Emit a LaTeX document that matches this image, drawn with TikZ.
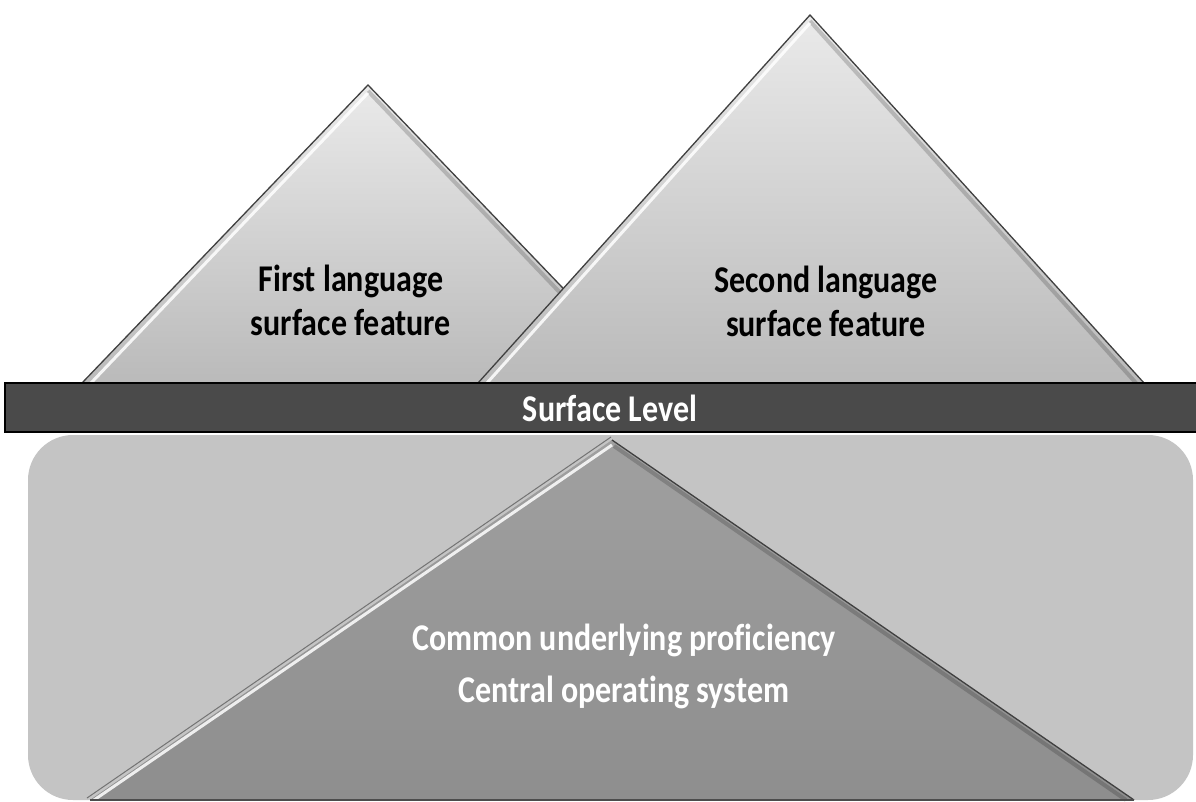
\documentclass[tikz,border=0pt]{standalone}
\usepackage{fontspec}
\setmainfont[Ligatures=NoCommon]{Carlito}
\usetikzlibrary{calc}
\definecolor{barcol}{HTML}{4A4A4A}
\definecolor{basecol}{HTML}{C4C4C4}
\definecolor{coretop}{HTML}{A0A0A0}
\definecolor{corebot}{HTML}{8E8E8E}
\definecolor{pktop}{HTML}{EAEAEA}
\definecolor{pkbot}{HTML}{BABABA}
\newcommand\tallline[1]{\scalebox{1}[1.18]{#1}}
\begin{document}
\begin{tikzpicture}[x=1pt,y=-1pt,
  lbl/.style={font=\bfseries\fontsize{32}{44}\selectfont, align=center, inner sep=0pt},
  edgedark/.style={draw=black!75, line width=1.3pt},
  edgelight/.style={draw=white, line width=3pt, opacity=0.85},
  edgeshadow/.style={draw=black, line width=4pt, opacity=0.18},
]
\useasboundingbox (0,0) rectangle (1196,802);
\fill[white] (0,0) rectangle (1196,802);

% vertices
\coordinate (A1) at (368,85);  \coordinate (L1) at (82,383);  \coordinate (R1) at (654,383);
\coordinate (A2) at (810,15);  \coordinate (L2) at (478,383); \coordinate (R2) at (1144,383);
\coordinate (A3) at (612,440); \coordinate (L3) at (90,800);  \coordinate (R3) at (1134,800);

% base rounded panel
\fill[basecol, rounded corners=45pt] (28,435) rectangle (1193,800);

% central triangle
\shade[top color=coretop, bottom color=corebot] (A3) -- (L3) -- (R3) -- cycle;
\draw[edgeshadow] ($(A3)+(2,6)$) -- ($(R3)+(-8,0)$);
\draw[edgedark] (A3) -- (R3);
\draw[draw=black!55, line width=1pt] ($(L3)+(-3,-2)$) -- ($(A3)+(-1,-3)$);
\draw[edgelight] ($(L3)+(4,0)$) -- ($(A3)+(0,5)$);
\draw[black!70, line width=1.5pt] (L3) -- (R3);

% first language peak
\shade[top color=pktop, bottom color=pkbot] (A1) -- (L1) -- (R1) -- cycle;
\draw[edgeshadow] ($(A1)+(0,6)$) -- ($(R1)+(-8,0)$);
\draw[edgedark] (L1) -- (A1) -- (R1);
\draw[edgelight] ($(L1)+(9,0)$) -- ($(A1)+(0,8)$);

% second language peak
\shade[top color=pktop, bottom color=pkbot] (A2) -- (L2) -- (R2) -- cycle;
\draw[edgeshadow] ($(A2)+(0,6)$) -- ($(R2)+(-8,0)$);
\draw[edgedark] (L2) -- (A2) -- (R2);
\draw[edgelight] ($(L2)+(9,0)$) -- ($(A2)+(0,8)$);

% surface level bar
\draw[fill=barcol, draw=black, line width=2pt] (5,383) rectangle (1200,432);
\node[lbl, text=white] (surf) at (610,408) {\tallline{Surface Level}};

% labels
\node[lbl] (first) at (351,300) {\tallline{First language}\\\tallline{surface feature}};
\node[lbl] (second) at (826,301) {\tallline{Second language}\\\tallline{surface feature}};
\node[lbl, text=white, font=\bfseries\fontsize{32}{52}\selectfont] (core) at (624,666) {\tallline{Common underlying proficiency}\\\tallline{Central operating system}};
\end{tikzpicture}
\end{document}
